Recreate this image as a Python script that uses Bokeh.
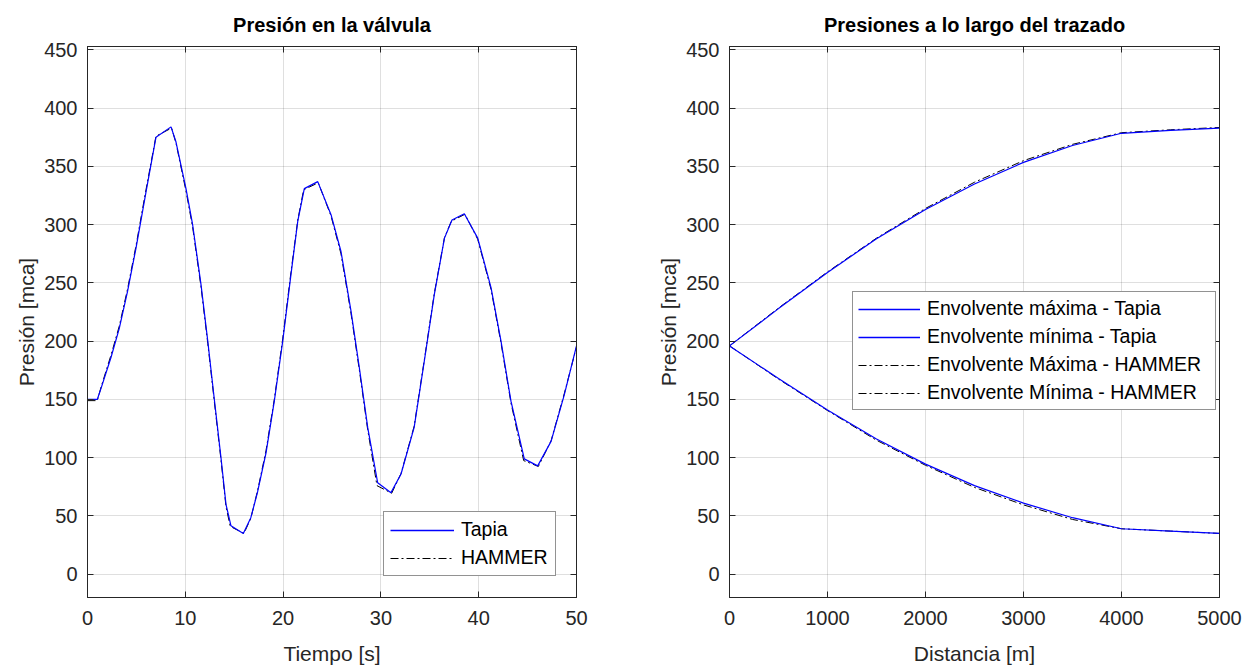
from bokeh.plotting import figure
from bokeh.models import Range1d, LinearAxis, FixedTicker, Legend, LegendItem
from bokeh.layouts import row
from bokeh.embed import file_html
from bokeh.resources import INLINE

# ---------------- data: left panel (pressure at valve vs time) ----------------
t_tapia = [0, 1.0, 1.4, 2.4, 3.25, 4.1, 4.96, 5.98, 7.0, 8.54, 9.05, 10.07, 10.75, 11.6,
           12.3, 12.97, 13.65, 14.16, 14.67, 15.93, 16.7, 17.4, 18.25, 19.1, 19.96, 20.8,
           21.5, 22.17, 23.54, 24.9, 25.92, 26.94, 27.8, 28.65, 29.67, 31.03, 32.06,
           33.4, 34.44, 35.46, 36.5, 37.27, 38.53, 39.9, 41.26, 42.28, 43.3, 44.66,
           46.03, 47.4, 48.75, 50.0]
p_tapia = [150, 150, 160, 186, 211, 243, 280, 328, 375, 384, 371, 331, 300, 249,
           200, 150, 100, 60, 41.5, 35, 48.5, 71, 104, 148.5, 200, 257,
           303, 331, 337, 308.6, 277, 226, 177, 126, 78.5, 70, 86,
           126, 183, 240, 288.5, 304, 309.5, 288.5, 246, 200, 148.5, 99,
           93, 114, 154, 196]

t_hammer = [0, 1.0, 1.4, 2.4, 3.25, 4.1, 4.96, 5.98, 7.0, 8.6, 9.05, 10.07, 10.75, 11.6,
            12.3, 12.97, 13.65, 14.16, 14.6, 16.0, 16.7, 17.4, 18.25, 19.1, 19.96, 20.8,
            21.5, 22.1, 23.6, 24.9, 25.92, 26.94, 27.8, 28.65, 29.6, 31.1, 32.06,
            33.4, 34.44, 35.46, 36.5, 37.2, 38.6, 39.9, 41.26, 42.28, 43.3, 44.6,
            46.1, 47.4, 48.75, 50.0]
p_hammer = [149, 149, 161, 188, 213, 245, 282, 330, 376, 383, 370, 329, 298, 247,
            198, 148, 98, 58, 41, 35, 48, 72, 106, 150, 202, 259,
            304, 330, 336, 307.5, 275, 224, 175, 124, 76, 69.5, 86.5,
            127, 184, 241, 289, 303, 309, 287.5, 244.5, 198.5, 147, 97.5,
            92.5, 114.5, 155, 195]

# ---------------- data: right panel (envelopes vs distance) ----------------
d_env = [0, 500, 1000, 1500, 2000, 2500, 3000, 3500, 4000, 4500, 5000]
max_tapia = [196, 228, 259, 288, 313, 335, 353.5, 368, 378.5, 381, 383]
min_tapia = [196, 168, 141, 116, 94.5, 76, 61, 48.5, 39, 37, 35]
max_hammer = [196, 228.5, 259.5, 288.5, 314, 336.5, 355, 369, 379, 381.5, 383.5]
min_hammer = [196, 167.5, 140.5, 115, 93.5, 74.5, 59.5, 47, 39, 37, 35]

y_ticks = [0, 50, 100, 150, 200, 250, 300, 350, 400, 450]
x1_ticks = [0, 10, 20, 30, 40, 50]
x2_ticks = [0, 1000, 2000, 3000, 4000, 5000]

FONT = "Liberation Sans"
AX = "#262626"
BLUE = "#0000ff"
DASH = "8 3 2 3"


def style_axis(ax, ticks, labels=True, standoff=10):
    ax.ticker = FixedTicker(ticks=ticks)
    ax.major_tick_in = 6
    ax.major_tick_out = 0
    ax.minor_tick_line_color = None
    ax.axis_line_color = AX
    ax.major_tick_line_color = AX
    ax.major_label_text_font = FONT
    ax.major_label_text_color = AX
    if labels:
        ax.major_label_text_font_size = "20px"
        ax.major_label_standoff = standoff
    else:
        ax.major_label_text_font_size = "1px"
        ax.major_label_text_alpha = 0
        ax.major_label_standoff = 0


def make_fig(title, xr, xticks, xlabel, fw, lb, rb):
    p = figure(frame_width=fw, frame_height=551, min_border_left=lb, min_border_right=rb,
               min_border_top=46, min_border_bottom=72,
               x_range=xr, y_range=Range1d(-20, 453),
               output_backend="svg", toolbar_location=None, title=title)
    p.title.text_font = FONT
    p.title.text_font_size = "20px"
    p.title.text_font_style = "bold"
    p.title.text_color = "#000000"
    p.title.align = "center"
    p.title.standoff = 22
    p.outline_line_color = AX
    p.outline_line_alpha = 1
    p.background_fill_color = "white"
    p.border_fill_color = "white"
    style_axis(p.xaxis[0], xticks, standoff=13)
    style_axis(p.yaxis[0], y_ticks, standoff=10)
    p.xaxis[0].axis_label = xlabel
    p.yaxis[0].axis_label = "Presión [mca]"
    for ax in (p.xaxis[0], p.yaxis[0]):
        ax.axis_label_text_font = FONT
        ax.axis_label_text_font_size = "21px"
        ax.axis_label_text_font_style = "normal"
        ax.axis_label_text_color = AX
    p.xaxis[0].axis_label_standoff = 14
    p.yaxis[0].axis_label_standoff = 3
    top = LinearAxis()
    right = LinearAxis()
    style_axis(top, xticks, labels=False)
    style_axis(right, y_ticks, labels=False)
    p.add_layout(top, "above")
    p.add_layout(right, "right")
    p.xgrid.ticker = FixedTicker(ticks=xticks)
    p.ygrid.ticker = FixedTicker(ticks=y_ticks)
    p.grid.grid_line_color = AX
    p.grid.grid_line_alpha = 0.15
    p.grid.grid_line_width = 1
    return p


# ---------------- left panel ----------------
p1 = make_fig("Presión en la válvula", Range1d(0, 50), x1_ticks, "Tiempo [s]", 489, 87, 76)
r2 = p1.line(t_hammer, p_hammer, line_color="black", line_width=1, line_dash=DASH)
r1 = p1.line(t_tapia, p_tapia, line_color=BLUE, line_width=1.2)
# one-point stand-in used only for the legend swatch (draws nothing in the plot)
k1 = p1.line(t_tapia[:1], p_tapia[:1], line_color=BLUE, line_width=1.5)
leg1 = Legend(items=[LegendItem(label="Tapia", renderers=[k1]),
                     LegendItem(label="HAMMER", renderers=[r2])],
              location=(296, 21))
p1.add_layout(leg1)

# ---------------- right panel ----------------
p2 = make_fig("Presiones a lo largo del trazado", Range1d(0, 5000), x2_ticks, "Distancia [m]", 490, 77, 24)
c = p2.line(d_env, max_hammer, line_color="black", line_width=1, line_dash=DASH)
d = p2.line(d_env, min_hammer, line_color="black", line_width=1, line_dash=DASH)
a = p2.line(d_env, max_tapia, line_color=BLUE, line_width=1.2)
b = p2.line(d_env, min_tapia, line_color=BLUE, line_width=1.2)
ka = p2.line(d_env[:1], max_tapia[:1], line_color=BLUE, line_width=1.5)
kb = p2.line(d_env[:1], min_tapia[:1], line_color=BLUE, line_width=1.5)
leg2 = Legend(items=[LegendItem(label="Envolvente máxima - Tapia", renderers=[ka]),
                     LegendItem(label="Envolvente mínima - Tapia", renderers=[kb]),
                     LegendItem(label="Envolvente Máxima - HAMMER", renderers=[c]),
                     LegendItem(label="Envolvente Mínima - HAMMER", renderers=[d])],
              location=(123, 187))
p2.add_layout(leg2)

for lg, gw, sp, pad, lw in ((leg1, 64, 5, 6, 88), (leg2, 62, 5, 5, 283)):
    lg.label_text_font = FONT
    lg.label_text_font_size = "19.5px"
    lg.label_text_color = "#000000"
    lg.glyph_width = gw
    lg.glyph_height = 20
    lg.label_height = 20
    lg.label_width = lw
    lg.spacing = sp
    lg.padding = pad
    lg.margin = 0
    lg.label_standoff = 7
    lg.border_line_color = AX
    lg.border_line_width = 1
    lg.background_fill_color = "white"
    lg.background_fill_alpha = 1

layout = row(p1, p2)
open("out.html", "w").write(file_html(layout, INLINE))
